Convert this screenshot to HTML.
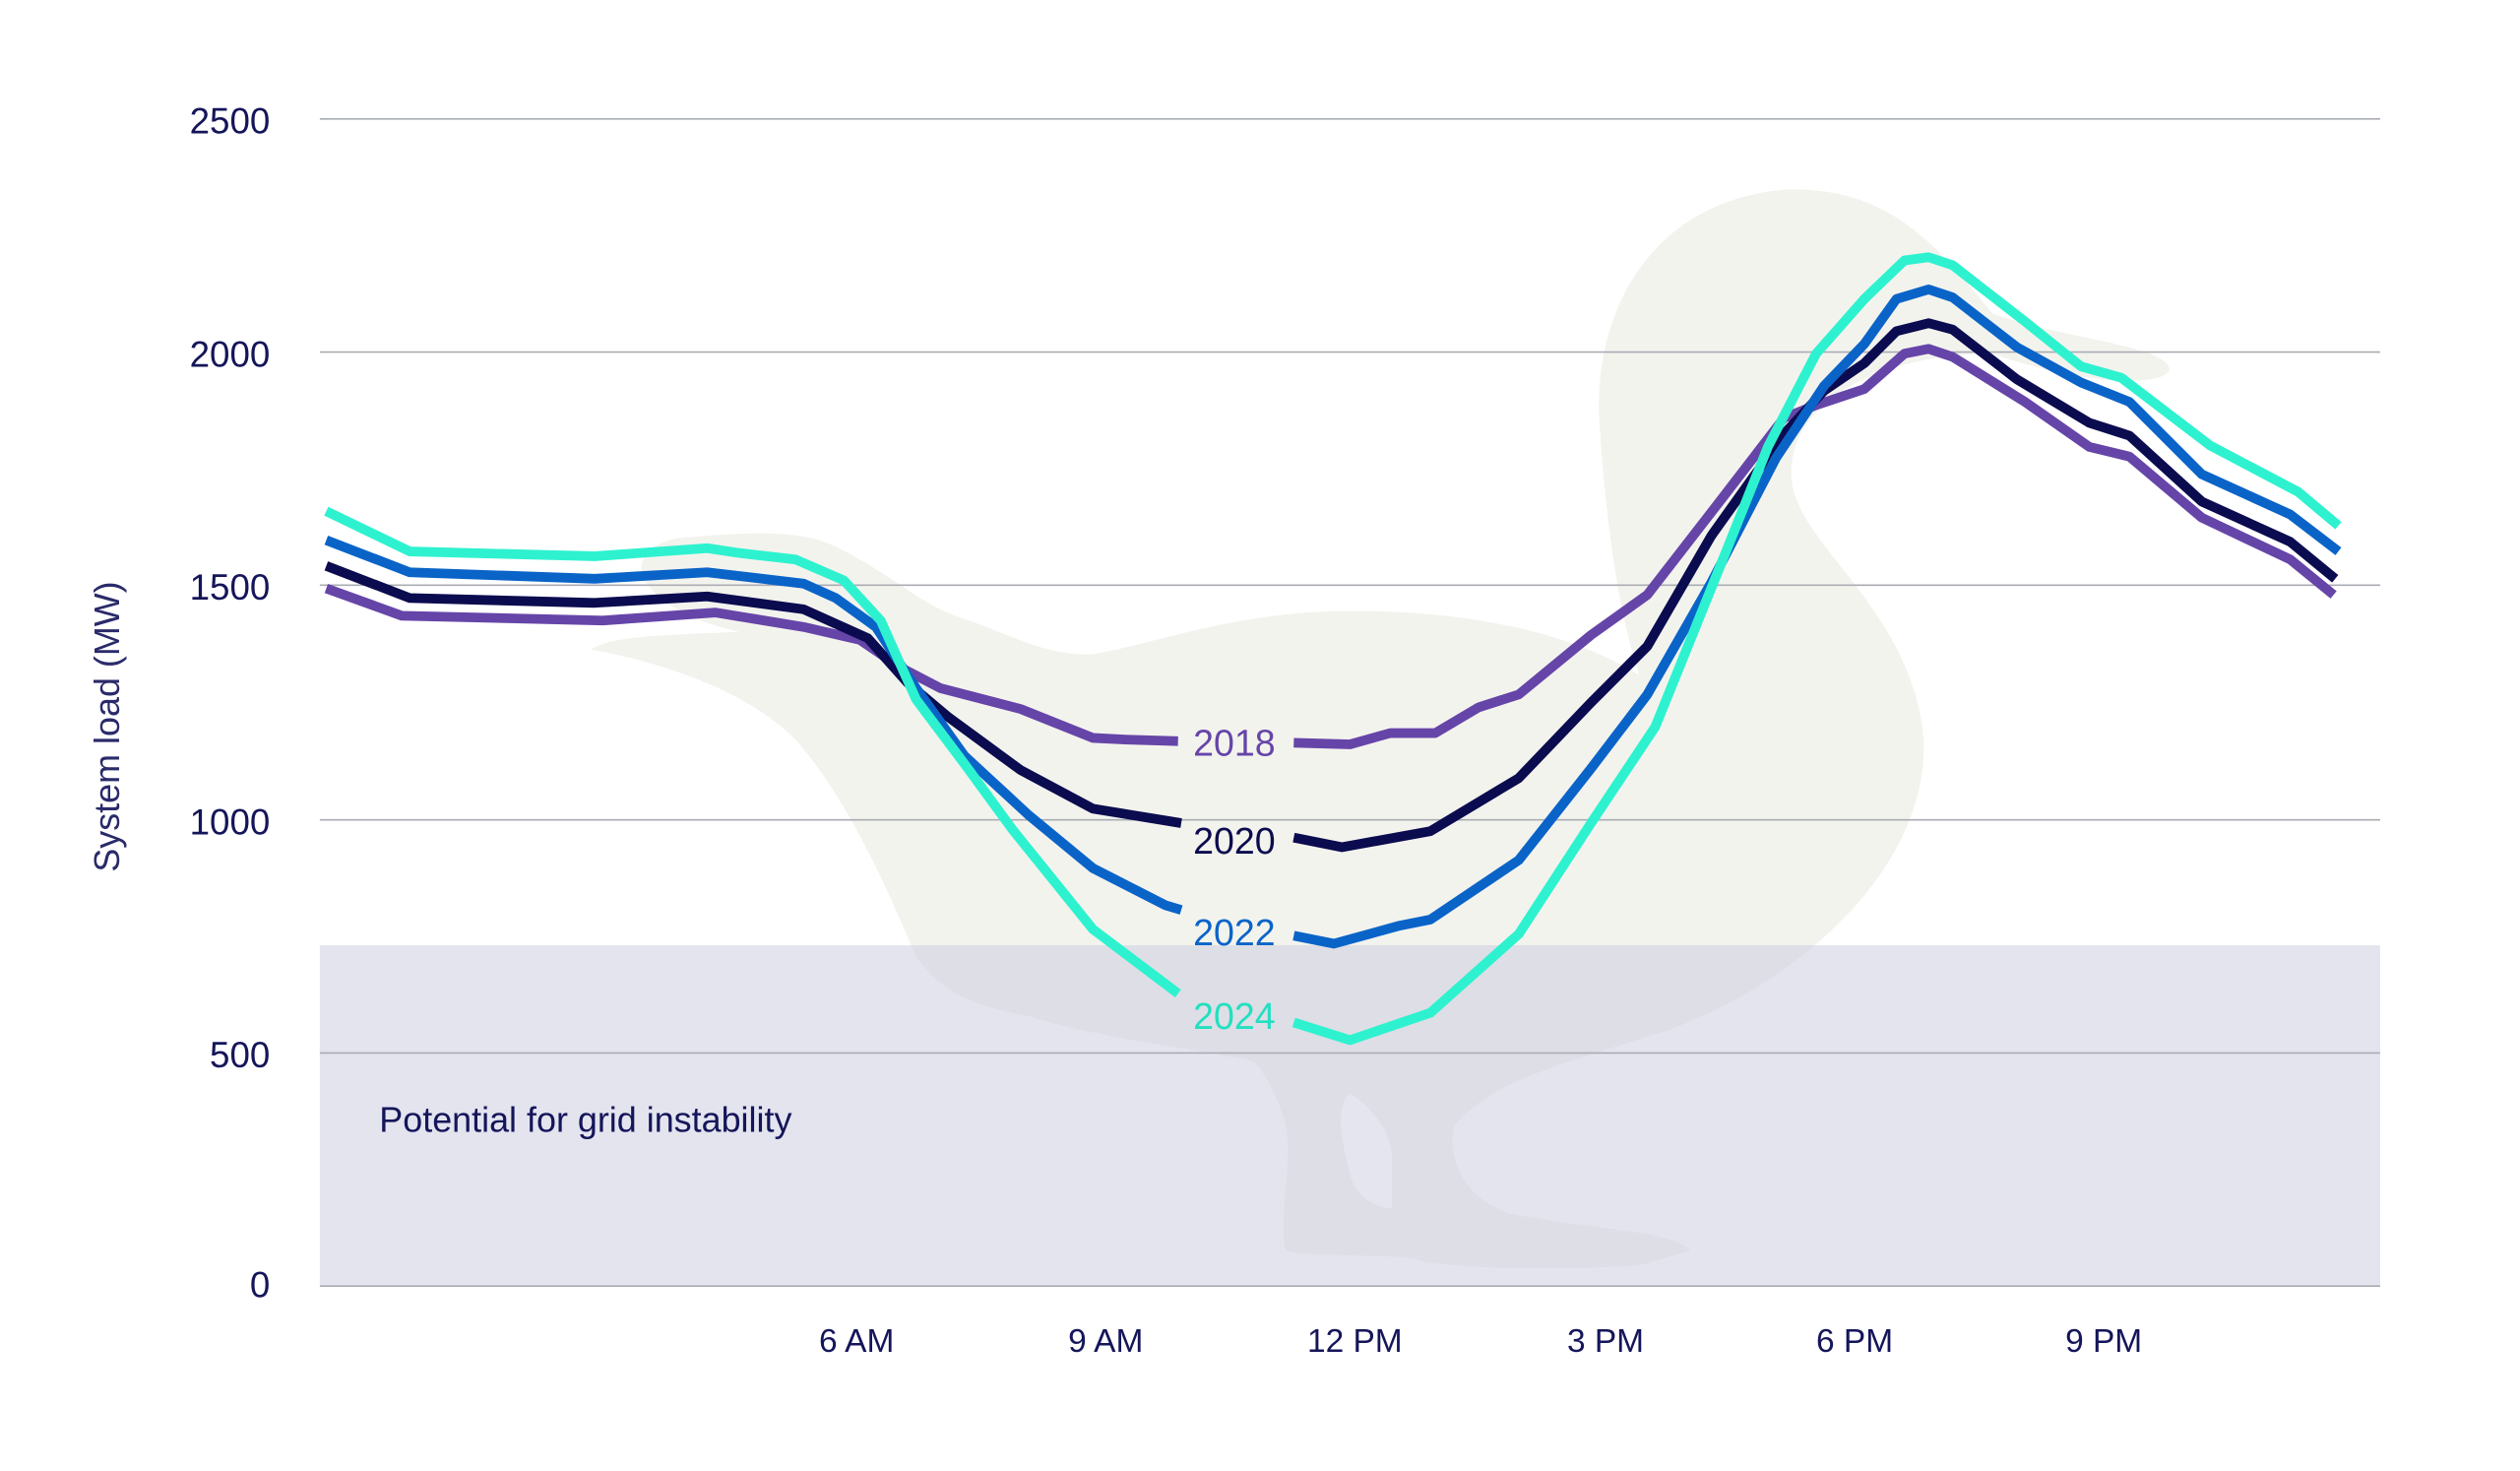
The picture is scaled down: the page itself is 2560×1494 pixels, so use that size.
<!DOCTYPE html>
<html><head><meta charset="utf-8"><style>
html,body{margin:0;padding:0;background:#fff;}
svg{display:block;}
text{font-family:"Liberation Sans",sans-serif;}
</style></head><body>
<svg width="2560" height="1494" viewBox="0 0 1568 915" preserveAspectRatio="none" xmlns="http://www.w3.org/2000/svg">
<rect width="1568" height="915" fill="#fff"/>
<path fill="#f3f3ee" d="M368,404 C380,395 420,395 460,393 C400,380 380,345 420,335 C470,330 500,330 520,340 C560,360 570,375 600,385 C630,395 650,408 680,407 C720,400 770,380 840,380 C920,380 980,395 1020,420 C1010,390 1000,340 995,260 C992,190 1030,125 1110,118 C1180,115 1210,160 1240,195 C1280,210 1350,215 1350,230 C1345,242 1290,238 1240,220 C1170,220 1110,250 1115,300 C1120,340 1190,380 1197,460 C1200,540 1120,610 1040,640 C980,660 930,670 905,700 C900,720 910,745 940,755 C990,765 1040,765 1052,778 L1020,787 C980,790 900,790 880,783 C860,780 820,782 800,778 C795,760 805,720 800,700 C795,680 785,665 780,660 C730,650 680,645 640,632 C600,625 585,615 570,595 C555,560 530,500 495,460 C460,425 400,410 368,404 Z"/>
<rect x="199" y="588" width="1282" height="212" fill="rgba(200,202,222,0.5)"/>
<path fill="#e4e5ee" d="M840,680 C855,690 866,705 866,720 L866,752 C850,750 842,740 840,730 C835,710 830,690 840,680 Z"/>
<g stroke="#a9adb3" stroke-width="1">
<line x1="199" y1="74" x2="1481" y2="74"/>
<line x1="199" y1="219" x2="1481" y2="219"/>
<line x1="199" y1="364" x2="1481" y2="364"/>
<line x1="199" y1="510" x2="1481" y2="510"/>
<line x1="199" y1="655" x2="1481" y2="655"/>
<line x1="199" y1="800" x2="1481" y2="800"/>
</g>
<g fill="#15155a" font-size="22.5">
<text x="168" y="83" text-anchor="end">2500</text>
<text x="168" y="228" text-anchor="end">2000</text>
<text x="168" y="373" text-anchor="end">1500</text>
<text x="168" y="519" text-anchor="end">1000</text>
<text x="168" y="664" text-anchor="end">500</text>
<text x="168" y="807" text-anchor="end">0</text>
</g>
<g fill="#15155a" font-size="20.5">
<text x="533" y="841" text-anchor="middle">6 AM</text>
<text x="688" y="841" text-anchor="middle">9 AM</text>
<text x="843" y="841" text-anchor="middle">12 PM</text>
<text x="999" y="841" text-anchor="middle">3 PM</text>
<text x="1154" y="841" text-anchor="middle">6 PM</text>
<text x="1309" y="841" text-anchor="middle">9 PM</text>
<text x="236" y="704" font-size="22">Potential for grid instability</text>
</g>
<text transform="translate(74,452) rotate(-90)" text-anchor="middle" fill="#2a2a6a" font-size="22">System load (MW)</text>
<g fill="none" stroke-width="6" stroke-linejoin="round">
<g stroke="#6645a8">
<polyline points="203,366 250,383 375,386 445,381 500,390 535,398 560,415 585,428 635,441 680,459 700,460 733,461"/>
<polyline points="805,462 840,463 865,456 893,456 920,440 945,432 990,395 1025,370 1070,312 1110,260 1130,252 1160,242 1185,220 1200,217 1215,222 1260,250 1300,278 1325,284 1370,322 1425,348 1452,370"/>
</g>
<g stroke="#0b0b4f">
<polyline points="203,352 255,372 370,375 440,371 500,379 540,397 565,425 590,446 635,479 680,503 735,512"/>
<polyline points="805,521 835,527 890,517 945,484 990,437 1025,402 1065,333 1110,270 1135,243 1160,226 1180,206 1200,201 1215,205 1255,236 1300,263 1325,271 1370,312 1425,337 1453,360"/>
</g>
<g stroke="#0a64c8">
<polyline points="203,336 255,356 370,360 440,356 500,363 520,372 545,390 570,428 600,470 640,507 680,540 725,563 735,566"/>
<polyline points="805,582 830,587 870,576 890,572 945,535 990,478 1025,432 1065,362 1105,285 1135,240 1160,214 1180,186 1200,180 1215,185 1255,216 1295,238 1325,250 1370,295 1425,320 1455,343"/>
</g>
<g stroke="#2ef2cf">
<polyline points="203,318 255,343 370,346 440,341 460,344 495,348 525,361 548,386 570,435 600,475 630,516 680,578 733,618"/>
<polyline points="805,636 840,647 890,630 945,581 990,512 1030,452 1070,353 1100,278 1130,220 1160,186 1185,162 1200,160 1215,165 1260,200 1295,228 1320,235 1375,277 1430,306 1455,327"/>
</g>
</g>
<g font-size="23" text-anchor="middle">
<text x="768" y="470" fill="#6645a8">2018</text>
<text x="768" y="531" fill="#0b0b4f">2020</text>
<text x="768" y="588" fill="#0a64c8">2022</text>
<text x="768" y="640" fill="#22e0c0">2024</text>
</g>
</svg>
</body></html>
